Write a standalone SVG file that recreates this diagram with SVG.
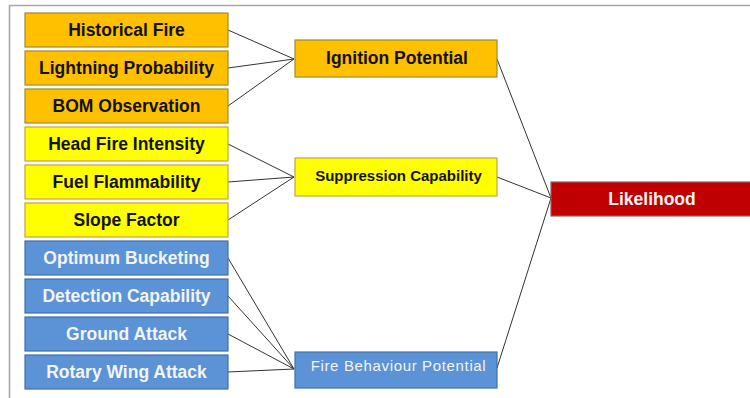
<svg xmlns="http://www.w3.org/2000/svg" width="750" height="398" viewBox="0 0 750 398">
<style>
.t{font-family:"Liberation Sans",Arial,sans-serif;font-weight:bold;font-size:17.5px;text-anchor:middle}
.org{fill:#FFC000;stroke:#A08A30;stroke-width:1.2}
.yel{fill:#FFFF00;stroke:#C8A050;stroke-width:1.2}
.blu{fill:#5B93D6;stroke:#4070A8;stroke-width:1.2}
.red{fill:#C00000;stroke:#906060;stroke-width:1.2}
.dk{fill:#111}
.wh{fill:#F4F4F4}
#connectors line{stroke:#333;stroke-width:1}
</style>
<rect width="750" height="398" fill="#fff"/>
<path d="M9.5,398 V5.5 H750" fill="none" stroke="#A8A8A8" stroke-width="1.6"/>
<g id="connectors">
<line x1="228" y1="30" x2="294" y2="59"/>
<line x1="228" y1="68" x2="294" y2="59"/>
<line x1="228" y1="106" x2="294" y2="59"/>
<line x1="228" y1="144" x2="294" y2="177"/>
<line x1="228" y1="182" x2="294" y2="177"/>
<line x1="228" y1="220" x2="294" y2="177"/>
<line x1="228" y1="258" x2="294" y2="369"/>
<line x1="228" y1="296" x2="294" y2="369"/>
<line x1="228" y1="334" x2="294" y2="369"/>
<line x1="228" y1="372" x2="294" y2="369"/>
<line x1="497" y1="59" x2="551" y2="198"/>
<line x1="497" y1="177" x2="551" y2="198"/>
<line x1="497" y1="368" x2="551" y2="198"/>
</g>
<g id="historical-fire"><rect class="org" x="25" y="13" width="203" height="34"/><text class="t dk" x="126.5" y="36">Historical Fire</text></g>
<g id="lightning-probability"><rect class="org" x="25" y="51" width="203" height="34"/><text class="t dk" x="126.5" y="74">Lightning Probability</text></g>
<g id="bom-observation"><rect class="org" x="25" y="89" width="203" height="34"/><text class="t dk" x="126.5" y="112">BOM Observation</text></g>
<g id="head-fire-intensity"><rect class="yel" x="25" y="127" width="203" height="34"/><text class="t dk" x="126.5" y="150">Head Fire Intensity</text></g>
<g id="fuel-flammability"><rect class="yel" x="25" y="165" width="203" height="34"/><text class="t dk" x="126.5" y="188">Fuel Flammability</text></g>
<g id="slope-factor"><rect class="yel" x="25" y="203" width="203" height="34"/><text class="t dk" x="126.5" y="226">Slope Factor</text></g>
<g id="optimum-bucketing"><rect class="blu" x="25" y="241" width="203" height="34"/><text class="t wh" x="126.5" y="264">Optimum Bucketing</text></g>
<g id="detection-capability"><rect class="blu" x="25" y="279" width="203" height="34"/><text class="t wh" x="126.5" y="302">Detection Capability</text></g>
<g id="ground-attack"><rect class="blu" x="25" y="317" width="203" height="34"/><text class="t wh" x="126.5" y="340">Ground Attack</text></g>
<g id="rotary-wing-attack"><rect class="blu" x="25" y="355" width="203" height="34"/><text class="t wh" x="126.5" y="378">Rotary Wing Attack</text></g>
<g id="ignition-potential"><rect class="org" x="295" y="40" width="202" height="37"/><text class="t dk" x="397" y="64" style="font-size:17.5px">Ignition Potential</text></g>
<g id="suppression-capability"><rect class="yel" x="295" y="158" width="202" height="38"/><text class="t dk" x="398.5" y="181" style="font-size:15px">Suppression Capability</text></g>
<g id="fire-behaviour-potential"><rect class="blu" x="295" y="352" width="202" height="36"/><text class="t wh" x="398.5" y="371" style="font-weight:normal;font-size:15px;letter-spacing:0.65px">Fire Behaviour Potential</text></g>
<g id="likelihood"><rect class="red" x="551" y="182" width="203" height="34"/><text class="t wh" x="652" y="205">Likelihood</text></g>
</svg>
